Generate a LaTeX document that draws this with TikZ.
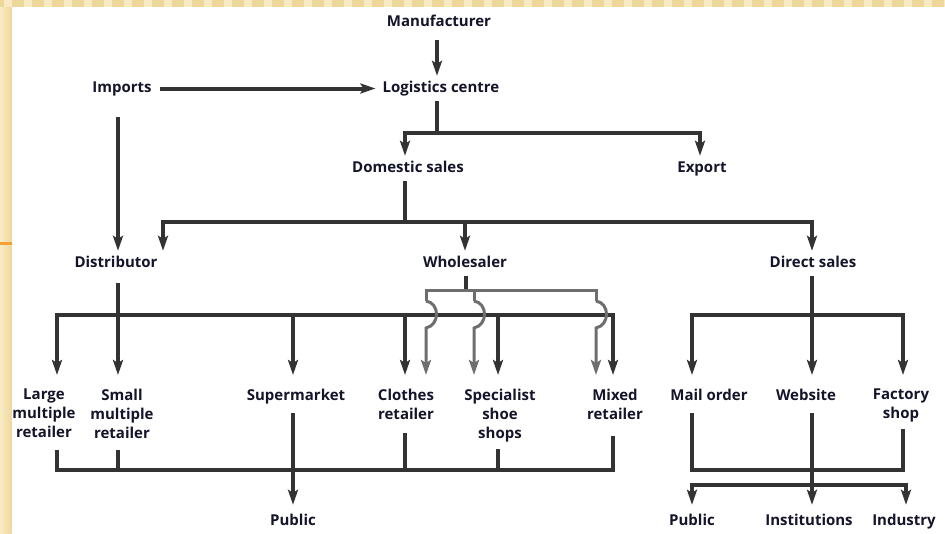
\documentclass[tikz,border=0pt]{standalone}
\usepackage{fontspec}
\setmainfont{Open Sans}
\usetikzlibrary{arrows.meta}
\definecolor{lc}{HTML}{333333}
\definecolor{gc}{HTML}{6E6E6E}
\definecolor{tc}{HTML}{14142A}
\definecolor{cream}{HTML}{EED79A}
\definecolor{creamlt}{HTML}{F8EBC4}
\definecolor{orangeline}{HTML}{F5A033}
\begin{document}
\begin{tikzpicture}[x=1pt,y=-1pt,
  lbl/.style={font=\fontsize{15}{19}\selectfont\bfseries, text=tc, inner xsep=4pt, inner ysep=6pt, text height=10pt, text depth=3pt, anchor=base},
  mlbl/.style={font=\fontsize{15}{19}\selectfont\bfseries, text=tc, inner sep=0pt, align=center, anchor=north},
  ln/.style={draw=lc, line width=4pt},
  gl/.style={draw=gc, line width=3pt},
  arr/.style={ln, -{Stealth[length=15pt,width=10pt,inset=3pt]}},
  garr/.style={gl, -{Stealth[length=15pt,width=10pt,inset=3pt]}},
  tip/.style={shorten >=14pt}
]
\useasboundingbox (0,0) rectangle (945,533);
% slide background
\fill[cream] (0,0) rectangle (945,533);
\foreach \i in {0,...,47} \fill[creamlt] (\i*20+4,0) rectangle (\i*20+12,7);
\shade[left color=creamlt, right color=cream] (0,7) rectangle (12,533);
\fill[white] (12,7) rectangle (945,533);
\fill[orangeline] (0,242) rectangle (12,245);

% labels
\node[lbl] (manu) at (439,26) {Manufacturer};
\node[lbl] (imp) at (122,92) {Imports};
\node[lbl] (logi) at (441,92) {Logistics centre};
\node[lbl] (dom) at (408,172) {Domestic sales};
\node[lbl] (exp) at (702,172) {Export};
\node[lbl] (dist) at (116,267) {Distributor};
\node[lbl] (whol) at (465,267) {Wholesaler};
\node[lbl] (dir) at (813,267) {Direct sales};
\node[mlbl] (large) at (44,389) {Large\\multiple\\retailer};
\node[mlbl] (small) at (122,389) {Small\\multiple\\retailer};
\node[mlbl] (super) at (296,389) {Supermarket};
\node[mlbl] (clothes) at (406,389) {Clothes\\retailer};
\node[mlbl] (spec) at (500,389) {Specialist\\shoe\\shops};
\node[mlbl] (mixed) at (615,389) {Mixed\\retailer};
\node[mlbl] (mail) at (709,389) {Mail order};
\node[mlbl] (web) at (806,389) {Website};
\node[mlbl] (fact) at (901,389) {Factory\\shop};
\node[lbl] (pubL) at (293,525) {Public};
\node[lbl] (pubR) at (692,525) {Public};
\node[lbl] (inst) at (809,525) {Institutions};
\node[lbl] (ind) at (904,525) {Industry};

% columns and junctions
\coordinate (xM) at (437,0);
\coordinate (xD) at (405,0);
\coordinate (xE) at (700,0);
\coordinate (xDi) at (163,0);
\coordinate (xW) at (465,0);
\coordinate (xR) at (812,0);
\coordinate (xI) at (118,0);
\coordinate (xLg) at (57,0);
\coordinate (xSu) at (293,0);
\coordinate (xCl) at (405,0);
\coordinate (xSp) at (498,0);
\coordinate (xMx) at (613,0);
\coordinate (xG1) at (426,0);
\coordinate (xG2) at (474,0);
\coordinate (xG3) at (596,0);
\coordinate (xMo) at (692,0);
\coordinate (xFs) at (903,0);
\coordinate (xIn) at (906,0);
\coordinate (jL) at (437,133);
\coordinate (jD) at (405,222);
\coordinate (jDi) at (118,315);
\coordinate (jW) at (466,290);
\coordinate (jR) at (812,315);
\coordinate (yB) at (0,470);
\coordinate (j2) at (812,485);

% top
\draw[arr, shorten <=5pt] (manu.south -| xM) -- (logi.north -| xM);
\draw[arr, shorten <=4pt, shorten >=3pt] (imp.east) -- (logi.west);
\draw[ln] (logi.south -| xM) -- (jL);
\draw[arr] (jL) -| (dom.north -| xD);
\draw[arr] (jL) -| (exp.north -| xE);
\draw[ln] (dom.south -| xD) -- (jD);
\draw[arr] (jD) -| (dist.north -| xDi);
\draw[arr] (jD) -| (whol.north -| xW);
\draw[arr] (jD) -| (dir.north -| xR);
\draw[arr, shorten <=16pt] (imp.south -| xI) -- (dist.north -| xI);

% distributor tree
\draw[arr, shorten <=7pt, tip] (dist.south -| xI) -- (small.north -| xI);
\draw[arr, tip] (jDi) -| (large.north -| xLg);
\draw[arr, tip] (jDi) -| (mixed.north -| xMx);
\draw[arr, tip] (jDi -| xSu) -- (super.north -| xSu);
\draw[arr, tip] (jDi -| xCl) -- (clothes.north -| xCl);
\draw[arr, tip] (jDi -| xSp) -- (spec.north -| xSp);

% wholesaler (grey)
\draw[ln] (whol.south -| jW) -- (jW);
\draw[gl] (jW -| xG1) ++(0,11) -- (jW -| xG1) -- (jW -| xG3) -- ++(0,11);
\draw[gl] (jW -| xG2) -- ++(0,11);
\draw[garr, tip] (jW -| xG1) ++(0,11) .. controls +(14,2) and +(14,-3) .. ++(0,27) -- (clothes.north -| xG1);
\draw[garr, tip] (jW -| xG2) ++(0,11) .. controls +(14,2) and +(14,-3) .. ++(0,27) -- (spec.north -| xG2);
\draw[garr, tip] (jW -| xG3) ++(0,11) .. controls +(14,2) and +(14,-3) .. ++(0,27) -- (mixed.north -| xG3);

% direct sales tree
\draw[ln] (dir.south -| xR) -- (jR);
\draw[arr, tip] (jR) -| (mail.north -| xMo);
\draw[arr, tip] (jR) -| (fact.north -| xFs);
\draw[arr, tip] (jR) -- (web.north -| xR);

% bottom left
\draw[ln, shorten <=12pt, shorten >=16pt] (large.south -| xLg) -- (xLg |- yB) -- (xMx |- yB) -- (mixed.south -| xMx);
\draw[ln, shorten <=11pt] (small.south -| xI) -- (xI |- yB);
\draw[ln, shorten <=13pt] (clothes.south -| xCl) -- (xCl |- yB);
\draw[ln, shorten <=7pt] (spec.south -| xSp) -- (xSp |- yB);
\draw[arr, shorten <=9pt, shorten >=4pt] (super.south -| xSu) -- (pubL.north -| xSu);

% bottom right
\draw[ln, shorten <=12pt, shorten >=6pt] (mail.south -| xMo) -- (xMo |- yB) -- (xFs |- yB) -- (fact.south -| xFs);
\draw[arr, shorten <=12pt, shorten >=4pt] (web.south -| xR) -- (inst.north -| xR);
\draw[arr, shorten >=4pt] (j2) -| (pubR.north -| xMo);
\draw[arr, shorten >=4pt] (j2) -| (ind.north -| xIn);
\end{tikzpicture}
\end{document}
